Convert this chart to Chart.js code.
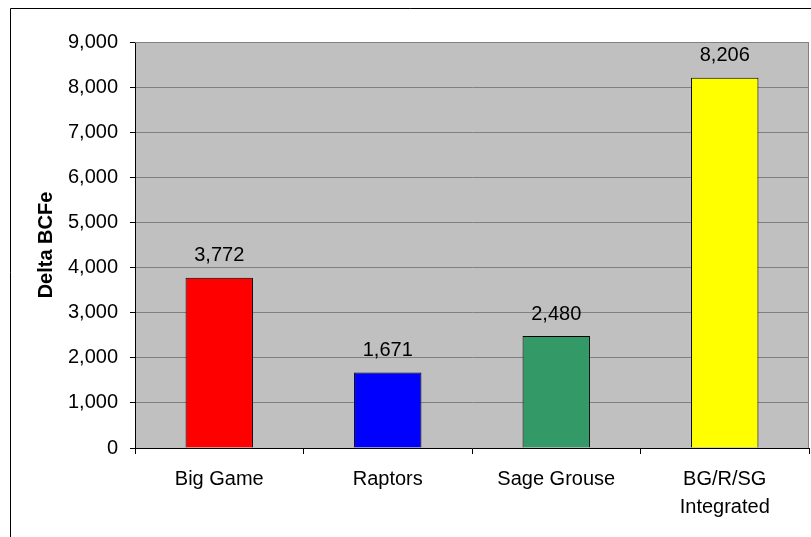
<!DOCTYPE html>
<html>
<head>
<meta charset="utf-8">
<script src="https://cdn.jsdelivr.net/npm/chart.js@4"></script>
<style>
  html, body { margin: 0; padding: 0; background: #fff; }
  #wrap { width: 811px; height: 537px; position: relative; }
</style>
</head>
<body>
<div id="wrap"><canvas id="chart" width="811" height="537"></canvas></div>
<script>
var categories = ['Big Game', 'Raptors', 'Sage Grouse', ['BG/R/SG', 'Integrated']];
var deltaValues = [3772, 1671, 2480, 8206];
var barColors = ['#FF0000', '#0000FF', '#339966', '#FFFF00'];
var yTicks = [0, 1000, 2000, 3000, 4000, 5000, 6000, 7000, 8000, 9000];

var fontFamily = '"Liberation Sans", Arial, sans-serif';

// fondo del área de trazado y marco exterior
var framePlugin = {
  id: 'frame',
  beforeDraw: function(chart) {
    var c = chart.ctx;
    var a = chart.chartArea;
    c.save();
    c.fillStyle = '#fff';
    c.fillRect(0, 0, chart.width, chart.height);
    c.strokeStyle = '#000';
    c.lineWidth = 1;
    c.beginPath();
    c.moveTo(10.5, chart.height);
    c.lineTo(10.5, 8.5);
    c.lineTo(chart.width, 8.5);
    c.stroke();
    c.fillStyle = '#C0C0C0';
    c.fillRect(a.left, a.top, a.right - a.left, a.bottom - a.top);
    c.restore();
  },
  afterDraw: function(chart) {
    var c = chart.ctx;
    var a = chart.chartArea;
    c.save();
    c.strokeStyle = '#808080';
    c.lineWidth = 1;
    c.beginPath();
    c.moveTo(a.left, a.top + 0.5);
    c.lineTo(a.right - 0.5, a.top + 0.5);
    c.lineTo(a.right - 0.5, a.bottom);
    c.stroke();
    c.restore();
  }
};

// etiquetas de valor sobre cada barra
var valueLabels = {
  id: 'valueLabels',
  afterDatasetsDraw: function(chart) {
    var c = chart.ctx;
    var meta = chart.getDatasetMeta(0);
    c.save();
    c.font = '20px ' + fontFamily;
    c.fillStyle = '#000';
    c.textAlign = 'center';
    c.textBaseline = 'middle';
    meta.data.forEach(function(bar, i) {
      c.fillText(deltaValues[i].toLocaleString('en-US'), bar.x, bar.y - 22);
    });
    c.restore();
  }
};

var ctx = document.getElementById('chart').getContext('2d');
var chart = new Chart(ctx, {
  type: 'bar',
  data: {
    labels: categories,
    datasets: [{
      data: deltaValues,
      backgroundColor: barColors,
      borderColor: '#000',
      borderWidth: 1,
      categoryPercentage: 1,
      barPercentage: 0.4
    }]
  },
  options: {
    responsive: false,
    animation: false,
    layout: { padding: { left: 0, top: 42, right: 2, bottom: 0 } },
    plugins: {
      legend: { display: false },
      tooltip: { enabled: false }
    },
    scales: {
      x: {
        grid: {
          offset: true,
          drawOnChartArea: false,
          drawTicks: true,
          tickLength: 6,
          color: '#000'
        },
        border: { color: '#000', width: 1 },
        ticks: {
          color: '#000',
          padding: 12,
          maxRotation: 0,
          font: { family: fontFamily, size: 20, lineHeight: 1.38 }
        },
        afterFit: function(scale) { scale.height = 89; }
      },
      y: {
        min: 0,
        max: 9000,
        afterBuildTicks: function(scale) {
          scale.ticks = yTicks.map(function(v) { return { value: v }; });
        },
        grid: {
          color: '#808080',
          tickColor: '#000',
          tickLength: 5
        },
        border: { color: '#000', width: 1 },
        ticks: {
          color: '#000',
          padding: 12,
          font: { family: fontFamily, size: 20 },
          callback: function(v) { return v.toLocaleString('en-US'); }
        },
        title: {
          display: true,
          text: 'Delta BCFe',
          color: '#000',
          font: { family: fontFamily, size: 20, weight: 'bold' },
          padding: { top: 34, bottom: 0 }
        },
        afterFit: function(scale) { scale.width = 135; }
      }
    }
  },
  plugins: [framePlugin, valueLabels]
});
</script>
</body>
</html>
